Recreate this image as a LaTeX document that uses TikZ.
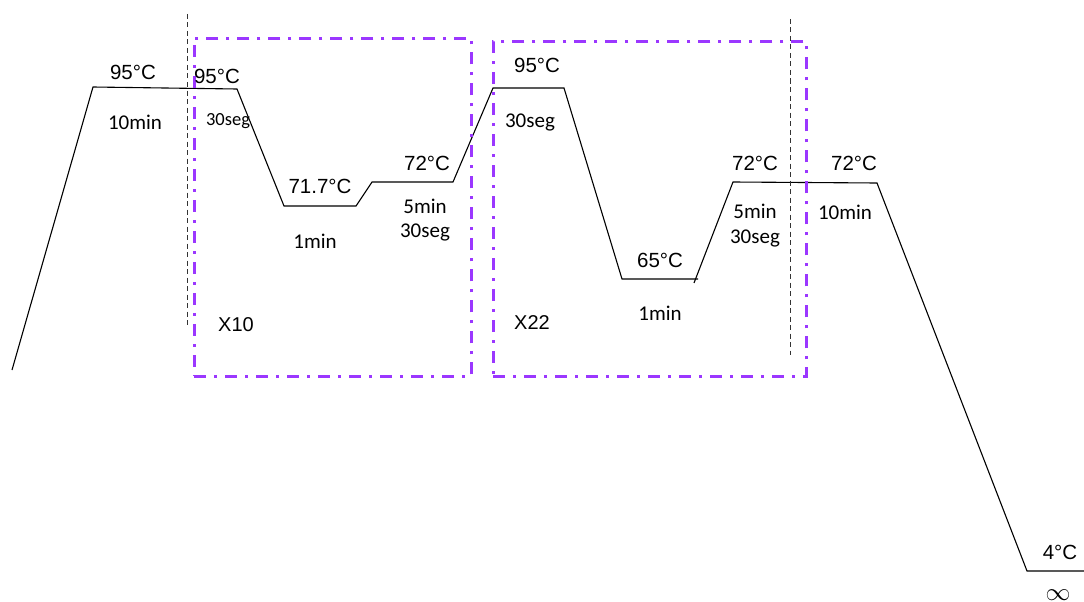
\documentclass[tikz,border=0pt]{standalone}
\usepackage{fontspec}
\setmainfont{Liberation Sans}
\newfontfamily\calfont{Carlito}
\definecolor{cyclepurple}{RGB}{155,55,255}
\tikzset{
  profile/.style={draw=black, line width=1.1pt, line join=miter},
  cyclebox/.style={draw=cyclepurple, line width=2.9pt, dash pattern=on 12pt off 8pt on 3pt off 8pt},
  divider/.style={draw=black!80, line width=1pt, dash pattern=on 5pt off 3.5pt},
  temp/.style={font=\fontsize{20.5}{23}\selectfont, inner sep=0pt},
  dur/.style={font=\calfont\fontsize{21}{23}\selectfont, inner sep=0pt},
  durs/.style={font=\calfont\fontsize{18.5}{20}\selectfont, inner sep=0pt},
  cnt/.style={font=\fontsize{20}{22}\selectfont, inner sep=0pt}
}
\begin{document}
\begin{tikzpicture}[x=1pt,y=-1pt]
\useasboundingbox (0,0) rectangle (1084,602);
% profile points
\coordinate (p0) at (12,370);
\coordinate (p1) at (93,87);
\coordinate (p2) at (237,89);
\coordinate (p3) at (284,206);
\coordinate (p4) at (356,206);
\coordinate (p5) at (372,182);
\coordinate (p6) at (453,182);
\coordinate (p7) at (493,88);
\coordinate (p8) at (564,88);
\coordinate (p9) at (622,279);
\coordinate (p10) at (698,279);
\coordinate (p11) at (694,283);
\coordinate (p12) at (733,182);
\coordinate (p13) at (877,183);
\coordinate (p14) at (1027,571);
\coordinate (p15) at (1084,571);
\draw[profile] (p0) -- (p1) -- (p2) -- (p3) -- (p4) -- (p5) -- (p6) -- (p7) -- (p8) -- (p9) -- (p10);
\draw[profile] (p11) -- (p12) -- (p13) -- (p14) -- (p15);
% dividers
\coordinate (d1a) at (187,14);
\coordinate (d1b) at (187,328);
\coordinate (d2a) at (790,19);
\coordinate (d2b) at (790,355);
\draw[divider] (d1a) -- (d1b);
\draw[divider] (d2a) -- (d2b);
% cycle boxes
\node[cyclebox, minimum width=277pt, minimum height=338pt, anchor=north west] (box1) at (193,37) {};
\node[cyclebox, minimum width=313pt, minimum height=335pt, anchor=north west] (box2) at (492,40) {};
% labels
\node[temp] (t1) at (133,72) {95°C};
\node[dur] (m1) at (135,122) {10min};
\node[temp] (t2) at (217,76) {95°C};
\node[durs] (m2) at (228,121) {30seg};
\node[temp] (t3) at (320,186) {71.7°C};
\node[dur] (m3) at (315,241) {1min};
\node[temp] (t4) at (427,163) {72°C};
\node[dur] (m4a) at (425,206) {5min};
\node[dur] (m4b) at (425,232) {30seg};
\node[temp] (t5) at (537,65) {95°C};
\node[dur] (m5) at (530,122) {30seg};
\node[temp] (t6) at (660,260) {65°C};
\node[dur] (m6) at (660,313) {1min};
\node[temp] (t7) at (755,163) {72°C};
\node[dur] (m7a) at (755,211) {5min};
\node[dur] (m7b) at (755,238) {30seg};
\node[temp] (t8) at (854,163) {72°C};
\node[dur] (m8) at (845,212) {10min};
\node[cnt] (c1) at (236,325) {X10};
\node[cnt] (c2) at (532,323) {X22};
\node[temp] (t9) at (1060,552) {4°C};
\node[font=\fontsize{28}{30}\selectfont, inner sep=0pt] (inf) at (1058,595) {$\infty$};
\end{tikzpicture}
\end{document}
